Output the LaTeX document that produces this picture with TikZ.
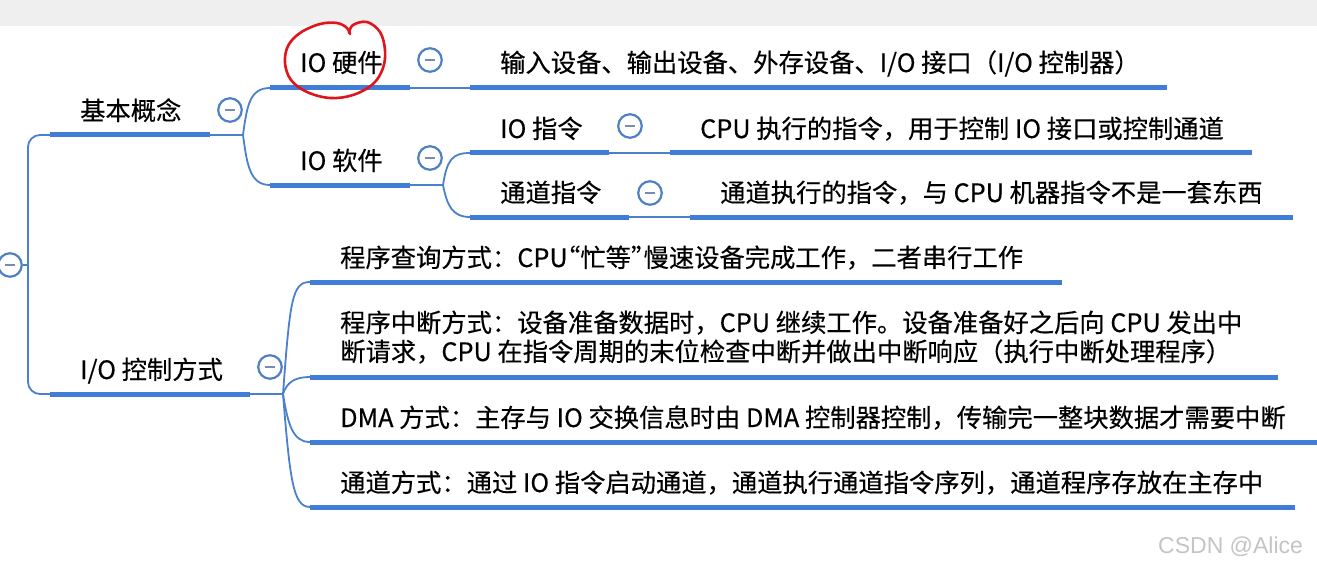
\documentclass[tikz,border=0pt]{standalone}
\usepackage{fontspec}
\setmainfont{Noto Sans CJK SC}[FakeBold=0.35]
\newfontfamily\wmfont{Liberation Sans}
\definecolor{barblue}{HTML}{3F7DD6}
\definecolor{linkblue}{HTML}{4A80CC}
\definecolor{circblue}{HTML}{4F80C6}
\definecolor{minusgray}{HTML}{7A8AB0}
\definecolor{topgray}{HTML}{EFEFEF}
\definecolor{penred}{HTML}{E0141C}
\definecolor{wmgray}{HTML}{C4C4C4}
\begin{document}
\begin{tikzpicture}[x=1pt,y=-1pt,
  bar/.style={draw=barblue,line width=5pt},
  link/.style={draw=linkblue,line width=1.8pt},
  txt/.style={anchor=base west,inner sep=0pt,font=\fontsize{25.3}{29}\selectfont},
  collapse/.style={circle,draw=circblue,line width=2.2pt,fill=white,minimum size=23.5pt,inner sep=0pt,
    path picture={\draw[line width=2.2pt,minusgray] ([xshift=-5pt]path picture bounding box.center) -- ([xshift=5pt]path picture bounding box.center);}}
]
\useasboundingbox (0,0) rectangle (1317,567);
\fill[topgray] (0,0) rectangle (1317,26);

% ---- bar end points
\coordinate (kbL) at (50,135);   \coordinate (kbR) at (210,135);  \coordinate (kbB) at (243,135);
\coordinate (hwL) at (270,88);   \coordinate (hwR) at (410,88);
\coordinate (swL) at (270,185);  \coordinate (swR) at (410,185);  \coordinate (swB) at (443,185);
\coordinate (hwdL) at (470,88);  \coordinate (hwdR) at (1167,88);
\coordinate (ioiL) at (470,153); \coordinate (ioiR) at (609,153);
\coordinate (ioidL) at (670,153);\coordinate (ioidR) at (1252,153);
\coordinate (chiL) at (470,217); \coordinate (chiR) at (629,217);
\coordinate (chidL) at (690,217);\coordinate (chidR) at (1293,217);
\coordinate (ctlL) at (50,394);  \coordinate (ctlR) at (250,394); \coordinate (ctlB) at (283,394);
\coordinate (m1L) at (310,282);  \coordinate (m1R) at (1062,282);
\coordinate (m2L) at (310,377);  \coordinate (m2R) at (1278,377);
\coordinate (m3L) at (310,442);  \coordinate (m3R) at (1317,442);
\coordinate (m4L) at (310,507);  \coordinate (m4R) at (1295,507);
\coordinate (trunk) at (28,265);

% ---- connectors
\node[collapse] (root) at (10,265) {};
\draw[link] (root.east) -- (trunk);
\draw[link,rounded corners=12pt] (kbL) -| (trunk) |- (ctlL);
\draw[link] (kbR) -- (kbB);
\draw[link] (kbB) .. controls (247,105) and (250,88) .. (hwL);
\draw[link] (kbB) .. controls (247,165) and (250,185) .. (swL);
\draw[link] (hwR) -- (hwdL);
\draw[link] (swR) -- (swB);
\draw[link] (swB) .. controls (447,160) and (452,153) .. (ioiL);
\draw[link] (swB) .. controls (447,205) and (452,217) .. (chiL);
\draw[link] (ioiR) -- (ioidL);
\draw[link] (chiR) -- (chidL);
\draw[link] (ctlR) -- (ctlB);
\draw[link] (ctlB) .. controls (290,300) and (292,282) .. (m1L);
\draw[link] (ctlB) .. controls (287,382) and (295,377) .. (m2L);
\draw[link] (ctlB) .. controls (288,425) and (293,442) .. (m3L);
\draw[link] (ctlB) .. controls (290,480) and (293,507) .. (m4L);

% ---- bars
\foreach \a in {kb,hw,sw,hwd,ioi,ioid,chi,chid,ctl,m1,m2,m3,m4}
  \draw[bar] (\a L) -- (\a R);

% ---- texts
\node[txt] (kb) at (80,120) {基本概念};
\node[txt] (hw) at (300,72) {IO 硬件};
\node[txt] (sw) at (300,170) {IO 软件};
\node[txt] (hwd) at (500,72) {输入设备、输出设备、外存设备、I/O 接口（I/O 控制器）};
\node[txt] (ioi) at (500,138) {IO 指令};
\node[txt] (ioid) at (700,138) {CPU 执行的指令，用于控制 IO 接口或控制通道};
\node[txt] (chi) at (500,202) {通道指令};
\node[txt] (chid) at (720,202) {通道执行的指令，与 CPU 机器指令不是一套东西};
\node[txt] (ctl) at (80,379) {I/O 控制方式};
\node[txt] (m1) at (340,267) {程序查询方式：CPU\kern-0.5em“忙等”\kern-0.5em慢速设备完成工作，二者串行工作};
\node[txt] (m2a) at (340,332) {程序中断方式：设备准备数据时，CPU 继续工作。设备准备好之后向 CPU 发出中};
\node[txt] (m2b) at (340,361) {断请求，CPU 在指令周期的末位检查中断并做出中断响应（执行中断处理程序）};
\node[txt] (m3) at (340,427) {DMA 方式：主存与 IO 交换信息时由 DMA 控制器控制，传输完一整块数据才需要中断};
\node[txt] (m4) at (340,492) {通道方式：通过 IO 指令启动通道，通道执行通道指令序列，通道程序存放在主存中};

% ---- collapse buttons
\node[collapse] (ckb) at (230,110) {};
\node[collapse] (chw) at (430,60) {};
\node[collapse] (csw) at (430,158) {};
\node[collapse] (cioi) at (630,126) {};
\node[collapse] (cchi) at (650,193) {};
\node[collapse] (cctl) at (270,367) {};

% ---- red hand-drawn circle
\draw[penred,line width=2.6pt,line cap=round,line join=round] plot[smooth,tension=0.6] coordinates {
 (349,33) (353,25) (367,22) (380,32) (385,50) (383,68) (373,84) (353,95) (330,98)
 (307,92) (291,80) (285,63) (288,46) (300,33) (320,24) (337,23) (347,28) (350,34)};

% ---- watermark
\node[anchor=base west,inner sep=0pt,text=wmgray,font=\wmfont\fontsize{23}{27}\selectfont] (wm) at (1158,553) {CSDN @Alice};
\end{tikzpicture}
\end{document}
